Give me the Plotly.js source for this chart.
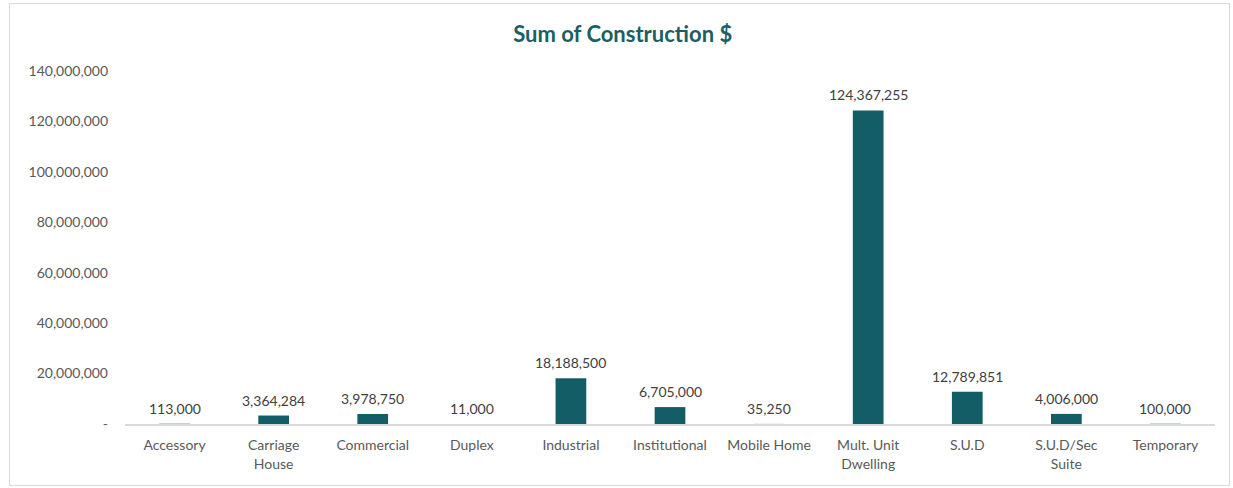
<!DOCTYPE html>
<html>
<head>
<meta charset="utf-8">
<script src="https://cdn.plot.ly/plotly-3.0.1.min.js"></script>
<style>
html,body{margin:0;padding:0;background:#fff;}
#chart{width:1233px;height:488px;}
#frame{position:absolute;left:9px;top:3px;width:1219px;height:481px;border:1px solid #d9d9d9;pointer-events:none;}
</style>
</head>
<body>
<div id="chart"></div>
<div id="frame"></div>
<script>
const categories = ["Accessory","Carriage<br>House","Commercial","Duplex","Industrial","Institutional","Mobile Home","Mult. Unit<br>Dwelling","S.U.D","S.U.D/Sec<br>Suite","Temporary"];
const values = [113000,3364284,3978750,11000,18188500,6705000,35250,124367255,12789851,4006000,100000];
const yTickVals = [0,20000000,40000000,60000000,80000000,100000000,120000000,140000000];
const yTickText = ["-","20,000,000","40,000,000","60,000,000","80,000,000","100,000,000","120,000,000","140,000,000"];

const fmt = v => v.toLocaleString('en-US');

const labels = categories.map((c, i) => ({
  x: c, y: values[i], xref: 'x', yref: 'y',
  text: fmt(values[i]), showarrow: false,
  yanchor: 'bottom', yshift: 5,
  font: {family: 'Lato, sans-serif', size: 14, color: '#404040'}
}));

Plotly.newPlot('chart', [{
  type: 'bar',
  x: categories,
  y: values,
  marker: {color: '#135E66'},
  hoverinfo: 'x+y'
}], {
  width: 1233, height: 488,
  margin: {l: 125, r: 18, t: 71, b: 64},
  paper_bgcolor: '#fff', plot_bgcolor: '#fff',
  bargap: 0.69,
  showlegend: false,
  annotations: labels,
  title: {text: '<b>Sum of Construction $</b>', x: 0.505, xref: 'container', y: 0.93, yref: 'container', yanchor: 'middle',
    font: {family: 'Lato, sans-serif', size: 22, color: '#1B5E63'}},
  xaxis: {
    showline: true, linecolor: '#d9d9d9', linewidth: 1.5,
    ticks: '', showgrid: false, zeroline: false,
    ticklabelstandoff: 8,
    tickfont: {family: 'Lato, sans-serif', size: 14, color: '#595959'}
  },
  yaxis: {
    range: [0, 140000000], tickvals: yTickVals, ticktext: yTickText,
    showgrid: false, zeroline: false, showline: false, ticks: '',
    ticklabelstandoff: 16,
    tickfont: {family: 'Lato, sans-serif', size: 14, color: '#595959'}
  },
  font: {family: 'Lato, sans-serif'}
}, {displayModeBar: false, staticPlot: true});
</script>
</body>
</html>
